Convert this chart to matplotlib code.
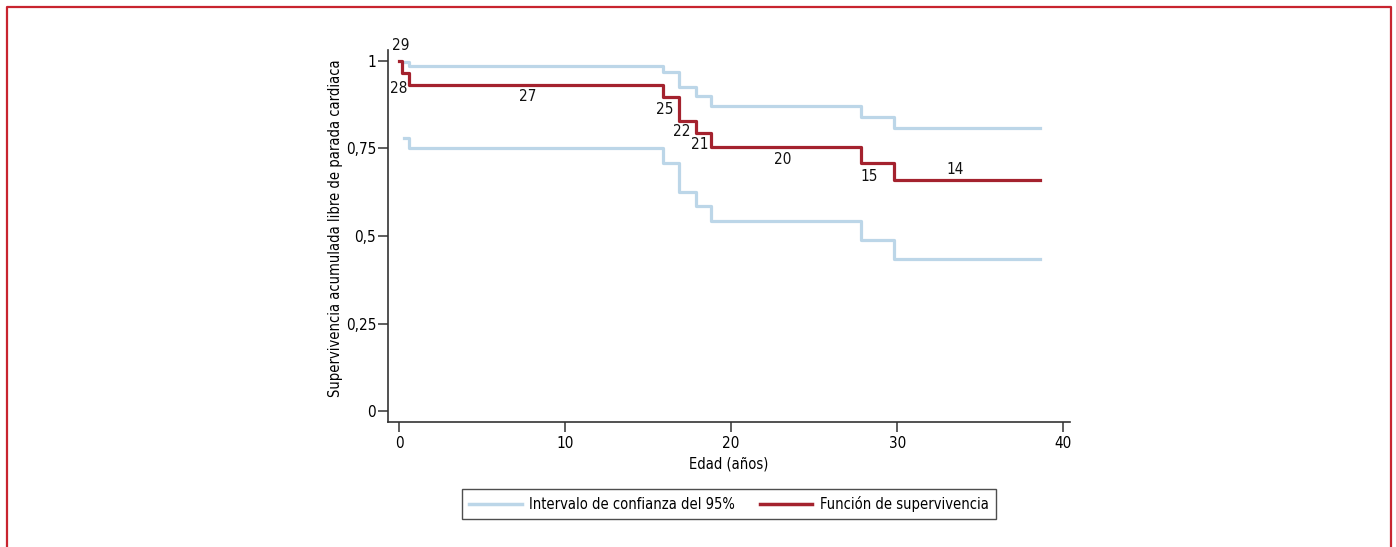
import matplotlib
matplotlib.use("Agg")
import matplotlib.pyplot as plt
from matplotlib.lines import Line2D

plt.rcParams['font.family'] = ['DejaVu Sans']
plt.rcParams['font.stretch'] = 'condensed'

# Data
surv_t = [0, 0.16, 0.62, 15.9, 16.87, 17.87, 18.8, 27.8, 29.8, 38.6]
surv_v = [1.0, 0.966, 0.931, 0.897, 0.828, 0.793, 0.755, 0.709, 0.66, 0.66]

upper_t = [0.25, 0.62, 15.9, 16.87, 17.87, 18.8, 27.8, 29.8, 38.6]
upper_v = [0.998, 0.985, 0.967, 0.925, 0.901, 0.871, 0.841, 0.808, 0.808]

lower_t = [0.3, 0.62, 15.9, 16.87, 17.87, 18.8, 27.8, 29.8, 38.6]
lower_v = [0.779, 0.75, 0.707, 0.627, 0.586, 0.544, 0.489, 0.435, 0.435]

at_risk = [29, 28, 27, 25, 22, 21, 20, 15, 14]
at_risk_x = [0.12, 0.0, 7.77, 16.0, 17.0, 18.1, 23.1, 28.3, 33.5]
at_risk_y = [1.043, 0.92, 0.897, 0.86, 0.797, 0.760, 0.717, 0.671, 0.689]

xticks = [0, 10, 20, 30, 40]
yticks = [0, 0.25, 0.5, 0.75, 1]
ytick_labels = ["0", "0,25", "0,5", "0,75", "1"]

RED = '#a4222e'
BLUE = '#bcd6e8'

fig = plt.figure(figsize=(13.96, 5.47), dpi=100)
ax = fig.add_axes([388/1396, 1-422/547, (1070-388)/1396, (422-50)/547])

ax.step(upper_t, upper_v, where='post', color=BLUE, lw=2.3, zorder=2)
ax.step(lower_t, lower_v, where='post', color=BLUE, lw=2.3, zorder=2)
ax.step(surv_t, surv_v, where='post', color=RED, lw=2.3, zorder=3)

for n, x, y in zip(at_risk, at_risk_x, at_risk_y):
    ax.text(x, y, str(n), ha='center', va='center', fontsize=11, color='#111111')

ax.set_xlim(-0.66, 40.4)
ax.set_ylim(-0.031, 1.031)
ax.set_xticks(xticks)
ax.set_yticks(yticks)
ax.set_yticklabels(ytick_labels)
for s in ['top', 'right']:
    ax.spines[s].set_visible(False)
for s in ['left', 'bottom']:
    ax.spines[s].set_linewidth(1.2)
    ax.spines[s].set_color('#333333')
ax.tick_params(axis='both', labelsize=11, width=1.1, length=7, color='#333333', pad=1.5)
ax.tick_params(axis='x', pad=3)
ax.set_xlabel('Edad (años)', fontsize=10.5, labelpad=4)
ax.set_ylabel('Supervivencia acumulada libre de parada cardiaca', fontsize=10.5)
ax.yaxis.set_label_coords(-0.066, 0.52)

handles = [Line2D([0], [0], color=BLUE, lw=2.5), Line2D([0], [0], color=RED, lw=2.5)]
leg = fig.legend(handles, ['Intervalo de confianza del 95%', 'Función de supervivencia'],
                 loc='center', bbox_to_anchor=(729/1396, 1-504/547), ncol=2,
                 fontsize=10.5, frameon=True, fancybox=False, handlelength=3.6,
                 columnspacing=1.7, borderpad=0.5, handletextpad=0.5)
leg.get_frame().set_edgecolor('#222222')
leg.get_frame().set_linewidth(1.0)

# red border around figure (no bottom)
bx0, bx1, by0 = 6.5/1396, 1391/1396, 1-7/547
fig.add_artist(Line2D([bx0, bx0, bx1, bx1], [0, by0, by0, 0],
                      transform=fig.transFigure, color='#c8242f', lw=1.6))

fig.savefig('out.png', dpi=100)
